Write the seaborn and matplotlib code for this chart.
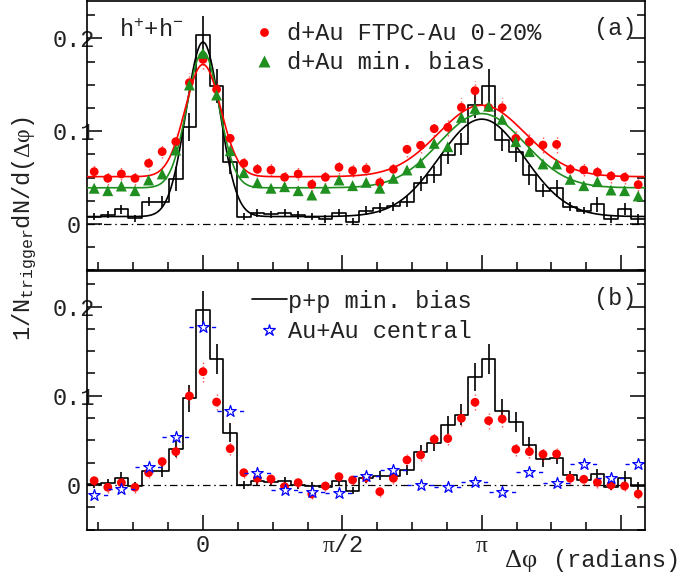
import numpy as np
import matplotlib
matplotlib.use("Agg")
import matplotlib.pyplot as plt
import seaborn as sns
from matplotlib.lines import Line2D
from matplotlib.ticker import FixedLocator, NullFormatter

# ---------------------------------------------------------------- data
# azimuthal bins (41 bins over 2*pi), first bin centred at -8 bin widths
BIN_W = 2 * np.pi / 41
bin_index = np.arange(-8, 33)
bin_index_auau = np.arange(-4, 17)          # Au+Au uses double-width bins

# (a) d+Au FTPC-Au 0-20%
dau_central = [0.0564, 0.0492, 0.0539, 0.0492, 0.0654, 0.0780, 0.0887, 0.1523, 0.1774, 0.1451,
               0.0923, 0.0654, 0.0589, 0.0582, 0.0503, 0.0539, 0.0427, 0.0503, 0.0611, 0.0575,
               0.0593, 0.0446, 0.0589, 0.0805, 0.0848, 0.1027, 0.1042, 0.1257, 0.1437, 0.1255,
               0.1254, 0.0923, 0.0887, 0.0851, 0.0858, 0.0589, 0.0582, 0.0557, 0.0517, 0.0503,
               0.0424]
dau_central_err = [0.007, 0.007, 0.007, 0.007, 0.007, 0.007, 0.008, 0.010, 0.010, 0.010,
                   0.008, 0.007, 0.007, 0.007, 0.007, 0.007, 0.007, 0.007, 0.007, 0.007,
                   0.007, 0.007, 0.007, 0.008, 0.008, 0.008, 0.009, 0.010, 0.010, 0.004,
                   0.010, 0.009, 0.009, 0.009, 0.009, 0.007, 0.007, 0.007, 0.007, 0.007,
                   0.007]
# (a) d+Au minimum bias
dau_minbias = [0.0385, 0.0359, 0.0409, 0.0359, 0.0474, 0.0539, 0.0797, 0.1498, 0.1839, 0.1390,
               0.0790, 0.0553, 0.0445, 0.0385, 0.0402, 0.0359, 0.0312, 0.0385, 0.0474, 0.0413,
               0.0449, 0.0385, 0.0492, 0.0582, 0.0661, 0.0869, 0.0833, 0.1149, 0.1246, 0.1270,
               0.1128, 0.0887, 0.0780, 0.0647, 0.0647, 0.0481, 0.0413, 0.0456, 0.0366, 0.0359,
               0.0302]
# (a) p+p minimum bias (histogram)
pp_a = [0.0079, 0.0100, 0.0160, 0.0061, 0.0240, 0.0240, 0.0481, 0.1049, 0.2037, 0.1487,
        0.0665, 0.0079, 0.0118, 0.0105, 0.0122, 0.0097, 0.0079, 0.0054, 0.0122, 0.0025,
        0.0144, 0.0171, 0.0190, 0.0240, 0.0438, 0.0530, 0.0744, 0.0865, 0.1285, 0.1488,
        0.0905, 0.0780, 0.0528, 0.0359, 0.0385, 0.0187, 0.0143, 0.0212, 0.0054, 0.0162,
        0.0054]
pp_a_err = [0.004, 0.004, 0.005, 0.004, 0.005, 0.006, 0.013, 0.015, 0.021, 0.018,
            0.013, 0.004, 0.004, 0.004, 0.004, 0.004, 0.004, 0.004, 0.004, 0.004,
            0.005, 0.005, 0.005, 0.006, 0.008, 0.009, 0.010, 0.012, 0.014, 0.018,
            0.012, 0.011, 0.011, 0.007, 0.009, 0.005, 0.004, 0.008, 0.004, 0.006,
            0.005]

# fit parameters: pedestal, near amplitude, near sigma, away amplitude, away sigma
fit_dau_central = [0.051, 0.121, 0.20, 0.077, 0.49]
fit_dau_minbias = [0.039, 0.147, 0.18, 0.080, 0.48]
fit_pp = [0.008, 0.188, 0.19, 0.105, 0.48]

# (b) pedestal-subtracted d+Au central
dau_sub = [0.0048, -0.0026, 0.0026, -0.0026, 0.0138, 0.0262, 0.0374, 0.0998, 0.1270, 0.0930,
           0.0407, 0.0138, 0.0075, 0.0067, -0.0019, 0.0026, -0.0101, -0.0011, 0.0093, 0.0056,
           0.0082, -0.0075, 0.0075, 0.0280, 0.0336, 0.0512, 0.0520, 0.0748, 0.0927, 0.0721,
           0.0740, 0.0400, 0.0374, 0.0344, 0.0348, 0.0075, 0.0064, 0.0030, 0.0000, -0.0011,
           -0.0101]
dau_sub_err = [0.006, 0.006, 0.006, 0.006, 0.006, 0.006, 0.007, 0.009, 0.011, 0.009,
               0.007, 0.006, 0.006, 0.006, 0.006, 0.006, 0.006, 0.006, 0.006, 0.006,
               0.006, 0.006, 0.006, 0.007, 0.007, 0.007, 0.007, 0.009, 0.009, 0.009,
               0.009, 0.007, 0.007, 0.007, 0.007, 0.006, 0.006, 0.006, 0.006, 0.006,
               0.006]
# (b) pedestal-subtracted p+p
pp_b = [0.0011, 0.0026, 0.0082, -0.0011, 0.0160, 0.0160, 0.0407, 0.0972, 0.1962, 0.1413,
        0.0587, 0.0000, 0.0045, 0.0030, 0.0045, 0.0000, -0.0007, -0.0019, 0.0045, -0.0064,
        0.0075, 0.0105, 0.0105, 0.0168, 0.0366, 0.0467, 0.0670, 0.0790, 0.1210, 0.1410,
        0.0833, 0.0706, 0.0448, 0.0288, 0.0300, 0.0108, 0.0060, 0.0121, -0.0019, 0.0080,
        -0.0011]
pp_b_err = [0.004, 0.004, 0.006, 0.004, 0.005, 0.007, 0.009, 0.015, 0.021, 0.017,
            0.011, 0.004, 0.004, 0.004, 0.005, 0.004, 0.004, 0.004, 0.005, 0.004,
            0.005, 0.005, 0.005, 0.006, 0.008, 0.009, 0.010, 0.012, 0.016, 0.017,
            0.013, 0.011, 0.009, 0.009, 0.007, 0.005, 0.004, 0.006, 0.004, 0.008,
            0.004]
# (b) Au+Au central
auau = [-0.0112, -0.0048, 0.0198, 0.0542, 0.1768, 0.0833, 0.0138, -0.0056, -0.0075, -0.0086,
        0.0101, 0.0168, 0.0000, -0.0026, 0.0037, -0.0075, 0.0149, 0.0026, 0.0235, 0.0075,
        0.0235]

phi = bin_index * BIN_W
edges = np.append(bin_index - 0.5, bin_index[-1] + 0.5) * BIN_W
phi_auau = bin_index_auau * 2 * BIN_W
XLIM = (edges[0], edges[-1])
YLIM = (-0.05, 0.24)

# ---------------------------------------------------------------- style
sns.set_theme(style="ticks")
MONO = ["Liberation Mono", "DejaVu Sans Mono"]
SERIF = ["Liberation Serif", "DejaVu Serif"]
plt.rcParams["font.family"] = MONO
plt.rcParams.update({
    "mathtext.fontset": "custom",
    "mathtext.rm": "Liberation Mono",
    "mathtext.it": "Liberation Mono",
    "mathtext.bf": "Liberation Mono:bold",
    "mathtext.sf": "Liberation Serif",
    "axes.edgecolor": "black",
    "axes.linewidth": 1.2,
    "text.color": "#222222",
    "xtick.color": "black",
    "ytick.color": "black",
    "xtick.labelcolor": "#222222",
    "ytick.labelcolor": "#222222",
})
FS = 17
RED, GREEN, BLUE = "#ff0000", "#1f8f1f", "#0000ff"


def two_gauss(x, p):
    ped, a1, s1, a2, s2 = p
    return ped + a1 * np.exp(-x**2 / (2 * s1**2)) + a2 * np.exp(-(x - np.pi)**2 / (2 * s2**2))


def step_hist(ax, values):
    # histogram outline: one level per bin, spanning the bin edges
    levels = np.append(values, values[-1])
    sns.lineplot(x=edges, y=levels, drawstyle="steps-post", color="black",
                 linewidth=1.2, ax=ax, zorder=2)


def frame(ax, show_xlabels):
    ax.set_xlim(*XLIM)
    ax.set_ylim(*YLIM)
    ax.axhline(0, color="black", lw=0.9, dashes=(6, 3, 1.2, 3), zorder=1)
    ax.xaxis.set_major_locator(FixedLocator([0, np.pi / 2, np.pi, 3 * np.pi / 2]))
    ax.xaxis.set_minor_locator(FixedLocator(np.arange(-3, 13) * np.pi / 8))
    ax.yaxis.set_major_locator(FixedLocator([0.0, 0.1, 0.2]))
    ax.yaxis.set_minor_locator(FixedLocator(np.arange(-0.05, 0.2401, 0.025)))
    ax.tick_params(which="both", direction="in", top=False, right=True, width=1.1)
    ax.tick_params(which="major", length=11)
    ax.tick_params(which="minor", length=5.5)
    ax.tick_params(axis="y", which="major", pad=9.5, labelsize=FS)
    ax.set_yticklabels(["0", "0.1", "0.2"])
    for lab in ax.get_yticklabels():
        lab.set_horizontalalignment("center")
    if show_xlabels:
        ax.set_xticklabels(["0", r"$\mathsf{\pi}\mathrm{/2}$", r"$\mathsf{\pi}$", ""])
        ax.tick_params(axis="x", which="major", pad=3, labelsize=FS)
    else:
        ax.xaxis.set_major_formatter(NullFormatter())
    ax.set_xlabel("")
    ax.set_ylabel("")
    for sp in ax.spines.values():
        sp.set_linewidth(1.2)
        sp.set_visible(True)


fig = plt.figure(figsize=(6.88, 5.76), dpi=100)
ax_a = fig.add_axes([0.127, 0.5306, 0.8105, 0.4671])
ax_b = fig.add_axes([0.127, 0.0806, 0.8105, 0.4491])

xf = np.linspace(XLIM[0], XLIM[1], 800)

# ---------------------------------------------------------------- panel (a)
step_hist(ax_a, pp_a)
ax_a.errorbar(phi, pp_a, yerr=pp_a_err, fmt="none", ecolor="black", elinewidth=1.2, zorder=2)
sns.lineplot(x=xf, y=two_gauss(xf, fit_pp), color="black", linewidth=1.2, ax=ax_a, zorder=3)
sns.lineplot(x=xf, y=two_gauss(xf, fit_dau_minbias), color=GREEN, linewidth=1.2, ax=ax_a, zorder=3)
sns.lineplot(x=xf, y=two_gauss(xf, fit_dau_central), color=RED, linewidth=1.2, ax=ax_a, zorder=3)
eb = ax_a.errorbar(phi, dau_central, yerr=dau_central_err, fmt="none", ecolor=RED,
                   elinewidth=1.0, alpha=0.7, zorder=3)
eb[2][0].set_linestyle(":")
sns.scatterplot(x=phi, y=dau_central, color=RED, marker="o", s=40, edgecolor="none",
                ax=ax_a, zorder=4, legend=False)
sns.scatterplot(x=phi, y=dau_minbias, color=GREEN, marker="^", s=62, edgecolor="none",
                ax=ax_a, zorder=5, legend=False)
frame(ax_a, False)

ax_a.text(0.057, 0.866, r"$\mathrm{h^{+}{+}h^{-}}$", transform=ax_a.transAxes,
          fontsize=FS, ha="left", va="baseline")
ax_a.text(0.946, 0.875, "(a)", transform=ax_a.transAxes, fontsize=FS,
          ha="center", va="baseline")
handles_a = [Line2D([], [], ls="none", marker="o", color=RED, ms=6.3, mec="none"),
             Line2D([], [], ls="none", marker="^", color=GREEN, ms=8, mec="none")]
ax_a.legend(handles_a, ["d+Au FTPC-Au 0-20%", "d+Au min. bias"], loc="upper left",
            bbox_to_anchor=(0.295, 0.922), frameon=False, borderpad=0, borderaxespad=0,
            handlelength=1.0, handletextpad=0.5, labelspacing=0.24, numpoints=1,
            prop={"family": MONO, "size": FS})

# ---------------------------------------------------------------- panel (b)
step_hist(ax_b, pp_b)
ax_b.errorbar(phi, pp_b, yerr=pp_b_err, fmt="none", ecolor="black", elinewidth=1.2, zorder=2)
eb = ax_b.errorbar(phi, dau_sub, yerr=dau_sub_err, fmt="none", ecolor=RED,
                   elinewidth=1.0, alpha=0.7, zorder=3)
eb[2][0].set_linestyle(":")
sns.scatterplot(x=phi, y=dau_sub, color=RED, marker="o", s=40, edgecolor="none",
                ax=ax_b, zorder=4, legend=False)
eb = ax_b.errorbar(phi_auau, auau, xerr=BIN_W, fmt="none", ecolor=BLUE, elinewidth=1.0, zorder=5)
eb[2][0].set_linestyle((0, (3, 13.2)))
sns.scatterplot(x=phi_auau, y=auau, marker="*", s=75, color=BLUE, facecolor="white",
                edgecolor=BLUE, linewidth=0.9, ax=ax_b, zorder=6, legend=False)
frame(ax_b, True)

ax_b.text(0.946, 0.868, "(b)", transform=ax_b.transAxes, fontsize=FS,
          ha="center", va="baseline")
handles_b = [Line2D([], [], color="black", lw=1.2),
             Line2D([], [], ls="none", marker="*", ms=9, mfc="white", mec=BLUE, mew=0.9)]
ax_b.legend(handles_b, ["p+p min. bias", "Au+Au central"], loc="upper left",
            bbox_to_anchor=(0.295, 0.928), frameon=False, borderpad=0, borderaxespad=0,
            handlelength=1.48, handletextpad=0.05, labelspacing=0.33, numpoints=1,
            prop={"family": MONO, "size": FS})

# ---------------------------------------------------------------- axis titles
fig.text(25 / 688, 1 - 229 / 576, r"$\mathrm{1/N_{trigger}dN/d(}\mathsf{\Delta\varphi}\mathrm{)}$",
         rotation=90, ha="center", va="center", fontsize=FS)
fig.text(505 / 688, 1 - 567 / 576, "\u0394\u03c6", family=SERIF, fontsize=19,
         ha="left", va="baseline")
fig.text(553 / 688, 1 - 567 / 576, "(radians)", family=MONO, fontsize=FS,
         ha="left", va="baseline")

fig.savefig("out.png", dpi=100)
